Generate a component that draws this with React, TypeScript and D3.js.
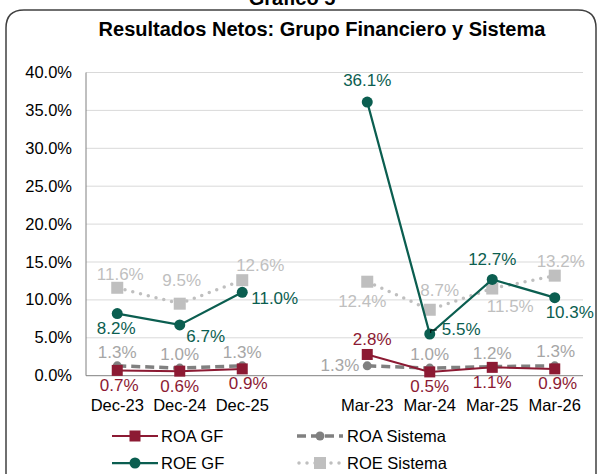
import React from "react";
import * as d3 from "d3";

const categories = ["Dec-23", "Dec-24", "Dec-25", "", "Mar-23", "Mar-24", "Mar-25", "Mar-26"];
const roaGF = [0.7, 0.6, 0.9, null, 2.8, 0.5, 1.1, 0.9];
const roeGF = [8.2, 6.7, 11.0, null, 36.1, 5.5, 12.7, 10.3];
const roaSis = [1.3, 1.0, 1.3, null, 1.3, 1.0, 1.2, 1.3];
const roeSis = [11.6, 9.5, 12.6, null, 12.4, 8.7, 11.5, 13.2];
const yTicks = [0, 5, 10, 15, 20, 25, 30, 35, 40];

// label offsets [dx, dy, anchor] relative to each point
type Off = [number, number, string];
const roaGFOff: Off[] = [[2, 21, "middle"], [0, 21, "middle"], [6, 20, "middle"], [0, 0, ""], [5, -9, "middle"], [0, 20, "middle"], [0, 21, "middle"], [3, 20, "middle"]];
const roeGFOff: Off[] = [[-1, 20, "middle"], [26, 17, "middle"], [9, 12, "start"], [0, 0, ""], [0, -16, "middle"], [12, 1, "start"], [0, -14, "middle"], [15, 20, "middle"]];
const roaSisOff: Off[] = [[0, -8, "middle"], [0, -8, "middle"], [0, -8, "middle"], [0, 0, ""], [-8, 5, "end"], [0, -8, "middle"], [0, -8, "middle"], [1, -9, "middle"]];
const roeSisOff: Off[] = [[3, -8, "middle"], [2, -18, "middle"], [18, -9, "middle"], [0, 0, ""], [-5, 25, "middle"], [10, -14, "middle"], [18, 23, "middle"], [6, -9, "middle"]];

const W = 600;
const H = 474;
const margin = { top: 72.5, right: 14, bottom: 98.3, left: 86 };
const font = "'Liberation Sans', Arial, sans-serif";

const RED = "#8C1A33";
const GREEN = "#0B5E50";
const GRAY = "#808080";
const LGRAY = "#BFBFBF";

export default function App() {
  const x = d3
    .scaleBand<string>()
    .domain(categories.map((c, i) => c + "#" + i))
    .range([margin.left, W - margin.right])
    .padding(0);
  const y = d3.scaleLinear().domain([0, 40]).range([H - margin.bottom, margin.top]);
  const cx = (i: number) => (x(categories[i] + "#" + i) as number) + x.bandwidth() / 2;

  const line = d3
    .line<number | null>()
    .defined((d) => d !== null)
    .x((_, i) => cx(i))
    .y((d) => y(d as number));

  const labels = (vals: (number | null)[], offs: Off[], color: string) =>
    vals.map((v, i) => {
      if (v === null) return null;
      const [dx, dy, anchor] = offs[i];
      return (
        <text key={i} x={cx(i) + dx} y={y(v) + dy} textAnchor={anchor} fill={color} fontSize={17}>
          {v.toFixed(1)}%
        </text>
      );
    });

  const x0 = margin.left;
  const x1 = W - margin.right;
  const y0 = H - margin.bottom;

  // small leader line for the Mar-24 ROE GF label
  const lx = cx(5);
  const ly = y(roeGF[5] as number);

  return (
    <svg
      width={W}
      height={H}
      style={{ position: "absolute", left: 0, top: 0, background: "#fff" }}
      fontFamily={font}
    >
      <text x={292} y={5} textAnchor="middle" fontSize={20} fontWeight="bold" fill="#000">
        Gráfico 5
      </text>
      <path
        d={`M6,${H + 10} L6,28 Q6,10 24,10 L578,10 Q596,10 596,28 L596,${H + 10}`}
        fill="none"
        stroke="#404040"
        strokeWidth={1.5}
      />
      <text x={322} y={36} textAnchor="middle" fontSize={20} fontWeight="bold" fill="#000">
        Resultados Netos: Grupo Financiero y Sistema
      </text>

      {yTicks.map((t) => (
        <g key={t}>
          {t > 0 && <line x1={x0} x2={x1 - 3} y1={y(t)} y2={y(t)} stroke="#D9D9D9" strokeWidth={1} />}
          <text x={72} y={y(t) + 5.5} textAnchor="end" fontSize={16.5} fill="#000">
            {t.toFixed(1)}%
          </text>
        </g>
      ))}
      <line x1={x0} x2={x0} y1={margin.top} y2={y0} stroke="#808080" strokeWidth={1} />
      <line x1={x0} x2={x1 - 3} y1={y0} y2={y0} stroke="#808080" strokeWidth={1} />
      {categories.map((c, i) =>
        c ? (
          <text key={i} x={cx(i)} y={y0 + 35} textAnchor="middle" fontSize={16.5} fill="#000">
            {c}
          </text>
        ) : null
      )}

      {/* ROE Sistema */}
      <path d={line(roeSis) || ""} fill="none" stroke={LGRAY} strokeWidth={3.5} strokeDasharray="0,8" strokeLinecap="round" />
      {roeSis.map((v, i) =>
        v === null ? null : <rect key={i} x={cx(i) - 6} y={y(v) - 6} width={12} height={12} fill={LGRAY} />
      )}
      {/* ROA Sistema */}
      <path d={line(roaSis) || ""} fill="none" stroke={GRAY} strokeWidth={3.5} strokeDasharray="9,5" />
      {roaSis.map((v, i) =>
        v === null ? null : <circle key={i} cx={cx(i)} cy={y(v)} r={4.5} fill={GRAY} />
      )}
      {/* ROA GF */}
      <path d={line(roaGF) || ""} fill="none" stroke={RED} strokeWidth={2} />
      {roaGF.map((v, i) =>
        v === null ? null : <rect key={i} x={cx(i) - 5.5} y={y(v) - 5.5} width={11} height={11} fill={RED} />
      )}
      {/* ROE GF */}
      <path d={line(roeGF) || ""} fill="none" stroke={GREEN} strokeWidth={2.25} />
      {roeGF.map((v, i) =>
        v === null ? null : <circle key={i} cx={cx(i)} cy={y(v)} r={5.5} fill={GREEN} />
      )}
      <path d={`M${lx + 1},${ly - 1} L${lx + 1},${ly - 4} L${lx + 7},${ly - 4}`} fill="none" stroke="#000" strokeWidth={1} />

      {labels(roeSis, roeSisOff, LGRAY)}
      {labels(roaSis, roaSisOff, "#A6A6A6")}
      {labels(roeGF, roeGFOff, GREEN)}
      {labels(roaGF, roaGFOff, RED)}

      {/* legend */}
      <g fontSize={16.5} fill="#000">
        <line x1={112} x2={158} y1={436} y2={436} stroke={RED} strokeWidth={2} />
        <rect x={129.5} y={430.5} width={11} height={11} fill={RED} />
        <text x={161} y={442}>ROA GF</text>
        <line x1={112} x2={158} y1={463} y2={463} stroke={GREEN} strokeWidth={2.25} />
        <circle cx={135} cy={463} r={5.5} fill={GREEN} />
        <text x={161} y={469}>ROE GF</text>
        <line x1={297} x2={343} y1={436} y2={436} stroke={GRAY} strokeWidth={3.5} strokeDasharray="9,5" />
        <circle cx={320} cy={436} r={4.5} fill={GRAY} />
        <text x={347} y={442}>ROA Sistema</text>
        <line x1={299} x2={343} y1={463} y2={463} stroke={LGRAY} strokeWidth={3.5} strokeDasharray="0,8" strokeLinecap="round" />
        <rect x={314} y={457} width={12} height={12} fill={LGRAY} />
        <text x={347} y={469}>ROE Sistema</text>
      </g>
    </svg>
  );
}
